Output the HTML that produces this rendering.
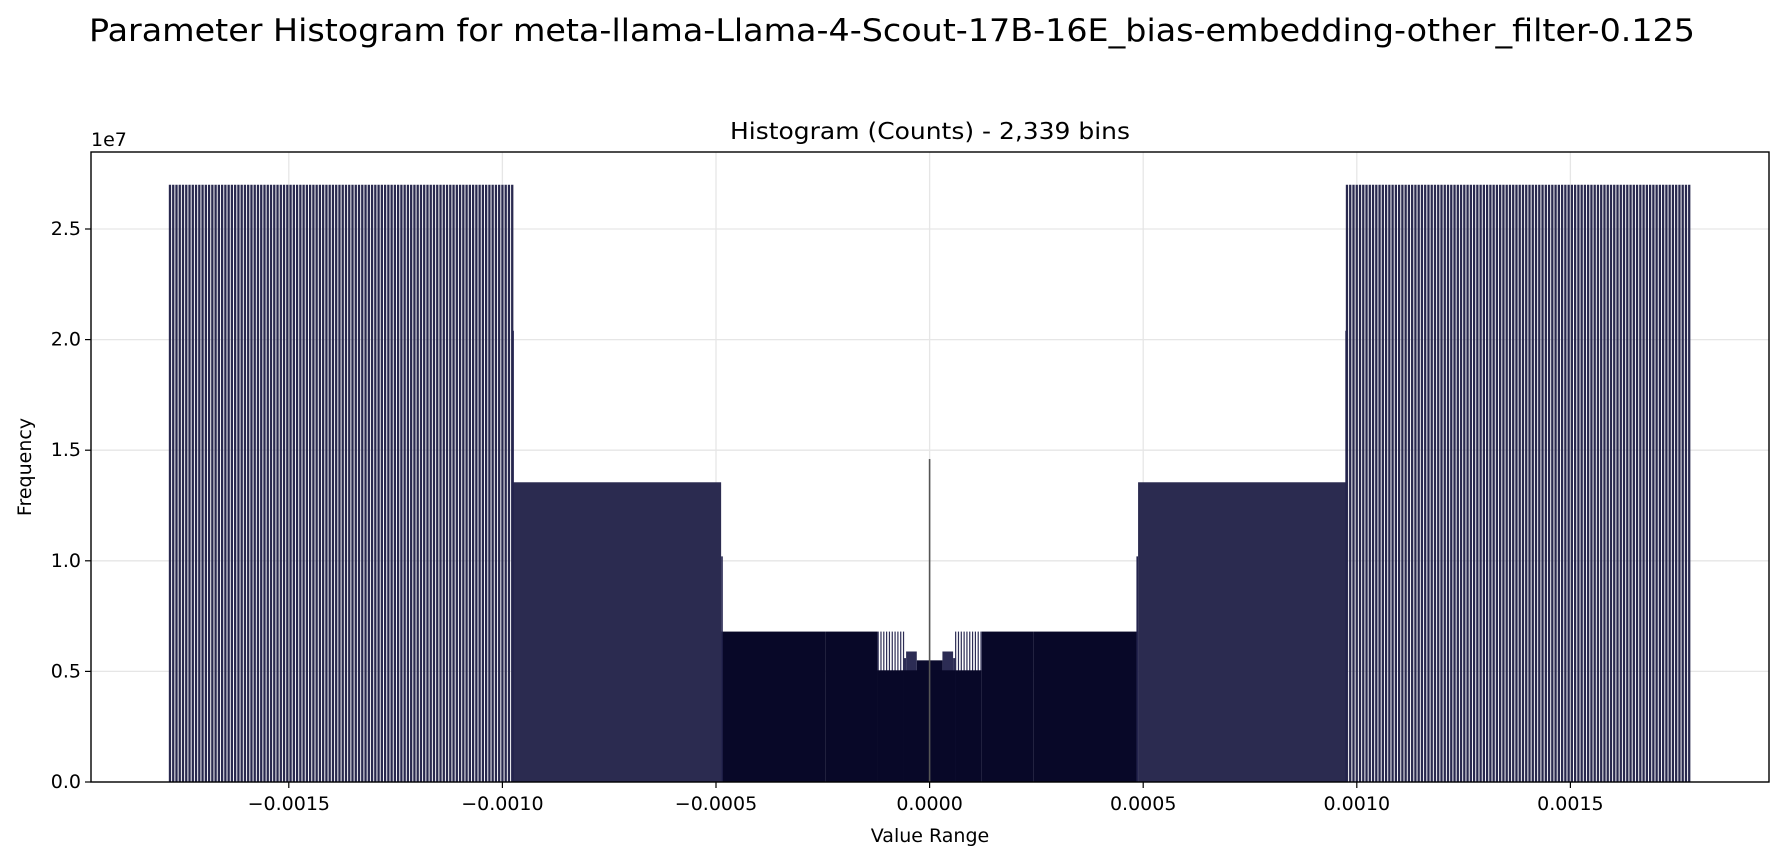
<!DOCTYPE html>
<html><head><meta charset="utf-8"><style>
html,body{margin:0;padding:0;background:#fff;}
svg{display:block;font-family:"DejaVu Sans","Liberation Sans",sans-serif;}
</style></head><body>
<svg id="chart" width="1784" height="860" viewBox="0 0 1784 860">
<text x="89" y="41" font-size="31" textLength="1606" lengthAdjust="spacingAndGlyphs" fill="#000">Parameter Histogram for meta-llama-Llama-4-Scout-17B-16E_bias-embedding-other_filter-0.125</text>
<text x="930" y="139" text-anchor="middle" font-size="23" textLength="400" lengthAdjust="spacingAndGlyphs" fill="#000">Histogram (Counts) - 2,339 bins</text>
<text x="91" y="146" font-size="19" fill="#000">1e7</text>
<text x="0" y="0" transform="translate(31,467) rotate(-90)" text-anchor="middle" font-size="19" fill="#000">Frequency</text>
<text x="930" y="842" text-anchor="middle" font-size="19" fill="#000">Value Range</text>
<g id="grid"></g><g id="bars"></g><g id="axes"></g>
</svg>
<script>
// ---- data ----
// step 0 = bins packed densely (drawn as a filled block)
const segLo    = [0.000977, 0.000488, 0.000244, 0.000122, 0.000061, 0.000055, 0.00003, 0.0];
const segHi    = [0.001785, 0.000977, 0.000488, 0.000244, 0.000122, 0.000061, 0.000055, 0.00003];
const segStep  = [7.63e-6, 0, 0, 0, 6.6e-6, 0, 0, 0];
const segCount = [27.0e6, 13.55e6, 6.8e6, 6.8e6, 6.8e6, 5.6e6, 5.9e6, 5.5e6];
const segColor = ["#29294f", "#2b2b50", "#080828", "#080828", "#2c2c54", "#2c2c54", "#2c2c54", "#0a0a2c"];
const baseLo   = [0.000061, 0.0];
const baseHi   = [0.000122, 0.000061];
const baseCount= [5.05e6, 5.05e6];
const edgeVals = [0.000975, 0.000486, 0];
const edgeCounts = [20.4e6, 10.2e6, 14.6e6];
const xTicks = [-0.0015, -0.0010, -0.0005, 0.0, 0.0005, 0.0010, 0.0015];
const xTickLabels = ["\u22120.0015","\u22120.0010","\u22120.0005","0.0000","0.0005","0.0010","0.0015"];
const yTicks = [0, 0.5e7, 1.0e7, 1.5e7, 2.0e7, 2.5e7];
const yTickLabels = ["0.0","0.5","1.0","1.5","2.0","2.5"];

const L=91,R=1769,T=152,B=782;
const X = v => 929.6 + v*427200;
const Y = c => B - c/1e6*22.12;
const NS="http://www.w3.org/2000/svg";
function mk(tag, attrs, parent){const e=document.createElementNS(NS,tag);for(const k in attrs)e.setAttribute(k,attrs[k]);parent.appendChild(e);return e;}
const grid=document.getElementById('grid'), bars=document.getElementById('bars'), axes=document.getElementById('axes');

xTicks.forEach(v=>{const g=mk('line',{x1:X(v),x2:X(v),y1:T,y2:B,stroke:'#e6e6e6','stroke-width':1.3},grid);

});
yTicks.forEach(v=>{const g=mk('line',{x1:L,x2:R,y1:Y(v),y2:Y(v),stroke:'#e6e6e6','stroke-width':1.3},grid);

});

function bar(v,c,w,fill){
  const r=mk('rect',{x:X(v)-w/2,y:Y(c),width:w,height:B-Y(c),fill:fill},bars);
  
  
}
function block(lo,hi,c,fill){
  [1,-1].forEach(s=>{const a=X(s*lo),b=X(s*hi);
    const r=mk('rect',{x:Math.min(a,b),y:Y(c),width:Math.abs(b-a),height:B-Y(c),fill:fill},bars);
    
    });
}
segLo.forEach((lo,i)=>{
  if(segStep[i]===0){block(lo,segHi[i],segCount[i],segColor[i]);return;}
  const w = segCount[i]>2e7 ? 2.3 : 1.2;
  for(let v=lo; v<=segHi[i]+1e-12; v+=segStep[i]){
    bar(v,segCount[i],w,segColor[i]);
    bar(-v,segCount[i],w,segColor[i]);
  }
});
baseLo.forEach((lo,i)=>block(lo,baseHi[i],baseCount[i],'#080828'));
edgeVals.forEach((v,i)=>{bar(v,edgeCounts[i],1.6,v===0?'#555':'#23234d'); if(v!==0) bar(-v,edgeCounts[i],1.6,'#23234d'); });

const f=mk('rect',{x:L,y:T,width:R-L,height:B-T,fill:'none',stroke:'#000','stroke-width':1.4},axes);


xTicks.forEach((v,i)=>{
  const t=mk('line',{x1:X(v),x2:X(v),y1:B,y2:B+6,stroke:'#000','stroke-width':1.2},axes);
  
  
  const l=mk('text',{x:X(v),y:B+28,'text-anchor':'middle','font-size':19,fill:'#000'},axes);
  l.textContent=xTickLabels[i];
  
  
});
yTicks.forEach((v,i)=>{
  const t=mk('line',{x1:L-6,x2:L,y1:Y(v),y2:Y(v),stroke:'#000','stroke-width':1.2},axes);
  
  
  const l=mk('text',{x:L-10,y:Y(v)+6,'text-anchor':'end','font-size':19,fill:'#000'},axes);
  l.textContent=yTickLabels[i];
  
  
});
</script>
</body></html>
